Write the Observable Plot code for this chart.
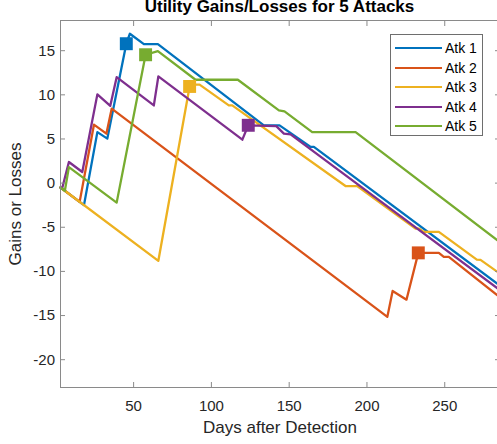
<!DOCTYPE html>
<html><head><meta charset="utf-8">
<script src="https://cdn.jsdelivr.net/npm/d3@7"></script>
<script src="https://cdn.jsdelivr.net/npm/@observablehq/plot@0.6"></script>
<style>
html,body{margin:0;padding:0;background:#fff;overflow:hidden;}
#wrap{position:relative;width:497px;height:444px;font-family:"Liberation Sans",Arial,Helvetica,sans-serif;}
#title{height:19px;position:relative;}
#title div{position:absolute;left:60px;width:439px;top:-2px;text-align:center;font-weight:bold;font-size:17px;line-height:17px;color:#000;white-space:nowrap;}
#legend{position:absolute;left:390px;top:34px;width:93px;height:102px;border:1px solid #6e6e6e;background:#fff;box-sizing:border-box;}
#legend .row{position:absolute;left:0;width:91px;height:20px;}
#legend .sample{position:absolute;left:4px;top:9px;width:47px;height:2px;}
#legend .lab{position:absolute;left:54px;top:0;line-height:20px;font-size:14px;color:#000;white-space:nowrap;}
</style>
</head><body>
<div id="wrap">
  <div id="title"><div>Utility Gains/Losses for 5 Attacks</div></div>
  <div id="chart"></div>
  <div id="legend"></div>
</div>
<script>
const seriesNames = ["Atk 1", "Atk 2", "Atk 3", "Atk 4", "Atk 5"];
const seriesColors = ["#0072BD", "#D95319", "#EDB120", "#7E2F8E", "#77AC30"];

const atk1Days   = [3, 18.1, 26.7, 33.1, 45.3, 47.6, 56.6, 65.6, 133.7, 143.8, 163.8, 165.9, 283.9];
const atk1Values = [-0.5, -2.49, 5.78, 5.04, 15.79, 16.92, 15.74, 15.74, 6.54, 6.54, 4.1, 4.1, -11.4];

const atk2Days   = [3, 15.3, 24.5, 32.5, 35.9, 213.1, 216.5, 225.4, 233.0, 246.2, 249.4, 252.6, 283.9];
const atk2Values = [-0.5, -2.12, 6.62, 5.6, 8.43, -15.15, -12.21, -13.2, -7.9, -7.9, -8.35, -8.35, -12.7];

const atk3Days   = [3, 65.9, 86.0, 88.0, 92.4, 111.2, 113.4, 186.2, 193.7, 231.2, 233.5, 236.6, 246.2, 270.6, 273.0, 283.9];
const atk3Values = [-0.5, -8.8, 10.95, 11.15, 11.15, 8.8, 8.8, -0.33, -0.33, -5.15, -5.15, -5.53, -5.53, -8.66, -8.7, -10.06];

const atk4Days   = [3, 4.0, 8.4, 17.0, 26.7, 35.0, 39.1, 63.0, 65.9, 119.9, 123.7, 141.7, 146.6, 150.9, 283.9];
const atk4Values = [-0.5, -0.63, 2.39, 1.26, 10.05, 8.75, 12.0, 8.8, 12.09, 4.92, 6.55, 6.45, 5.6, 5.52, -11.92];

const atk5Days   = [3, 5.8, 8.4, 39.1, 57.7, 65.6, 89.8, 117.0, 143.4, 147.0, 164.8, 192.7, 283.9];
const atk5Values = [-0.5, -0.87, 1.82, -2.21, 14.54, 14.95, 11.71, 11.71, 8.24, 8.12, 5.78, 5.78, -6.47];

const markerDays   = [45.3, 233.0, 86.0, 123.7, 57.7];
const markerValues = [15.79, -7.9, 10.95, 6.55, 14.54];

const xTicks = [50, 100, 150, 200, 250];
const yTicks = [-20, -15, -10, -5, 0, 5, 10, 15];
const xDomain = [3, 285.2];
const yDomain = [-23.15, 18.42];

const xLabel = "Days after Detection";
const yLabel = "Gains or Losses";

const seriesDays = [atk1Days, atk2Days, atk3Days, atk4Days, atk5Days];
const seriesValues = [atk1Values, atk2Values, atk3Values, atk4Values, atk5Values];

const rows = [];
seriesNames.forEach((name, s) => {
  seriesDays[s].forEach((d, i) => rows.push({series: name, day: d, value: seriesValues[s][i]}));
});
const markers = seriesNames.map((name, i) => ({series: name, day: markerDays[i], value: markerValues[i]}));

const axisGray = "#8a8a8a";
const textGray = "#262626";

const chart = Plot.plot({
  width: 497,
  height: 425,
  marginTop: 1,
  marginBottom: 57,
  marginLeft: 60,
  marginRight: -2,
  x: {domain: xDomain},
  y: {domain: yDomain},
  color: {domain: seriesNames, range: seriesColors},
  style: {fontFamily: '"Liberation Sans", Arial, Helvetica, sans-serif', fontSize: "15px", color: textGray, background: "transparent", overflow: "visible"},
  marks: [
    Plot.line(rows, {x: "day", y: "value", z: "series", stroke: "series", strokeWidth: 2.3}),
    Plot.dot(markers, {x: "day", y: "value", fill: "series", symbol: "square", r: 7.3}),
    Plot.frame({stroke: axisGray}),
    Plot.axisX({ticks: xTicks, tickSize: -5, tickPadding: 18, label: null, stroke: axisGray, fill: textGray, tickFormat: d => String(d)}),
    Plot.axisX({anchor: "top", ticks: xTicks, tickSize: -5, label: null, stroke: axisGray, tickFormat: () => ""}),
    Plot.axisY({ticks: yTicks, tickSize: -5, tickPadding: 10.5, label: null, stroke: axisGray, fill: textGray, tickFormat: d => String(d)}),
    Plot.axisY({anchor: "right", ticks: yTicks, tickSize: -5, label: null, stroke: axisGray, tickFormat: () => ""}),
    Plot.text([yLabel], {text: d => d, frameAnchor: "left", dx: -45, rotate: -90, textAnchor: "middle", lineAnchor: "middle", fontSize: 17, fill: textGray}),
    Plot.text([xLabel], {text: d => d, frameAnchor: "bottom", dy: 40, textAnchor: "middle", lineAnchor: "middle", fontSize: 17, fill: textGray})
  ]
});
document.getElementById("chart").appendChild(chart);

const legend = document.getElementById("legend");
seriesNames.forEach((name, i) => {
  const row = document.createElement("div");
  row.className = "row";
  row.style.top = (3 + 19.5 * i) + "px";
  const sample = document.createElement("div");
  sample.className = "sample";
  sample.style.background = seriesColors[i];
  const lab = document.createElement("div");
  lab.className = "lab";
  lab.textContent = name;
  row.appendChild(sample);
  row.appendChild(lab);
  legend.appendChild(row);
});
</script>
</body></html>
